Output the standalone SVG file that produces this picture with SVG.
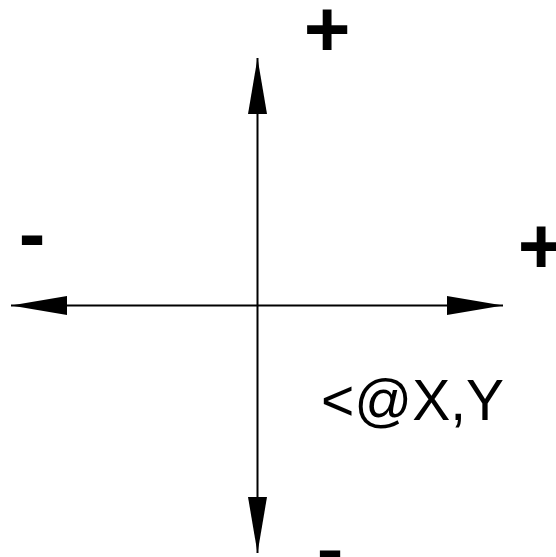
<svg xmlns="http://www.w3.org/2000/svg" width="556" height="557" viewBox="0 0 556 557">
  <defs>
    <style>
      .axis { stroke: #000; stroke-width: 2; fill: none; }
      .sign { font-family: "Liberation Sans", Arial, sans-serif; font-weight: bold; font-size: 80px; fill: #000; text-anchor: middle; }
      .label { font-family: "Liberation Sans", Arial, sans-serif; font-size: 57px; fill: #000; }
    </style>
    <marker id="arrow" markerUnits="userSpaceOnUse" viewBox="0 0 56 19" markerWidth="56" markerHeight="19" refX="56" refY="9.5" orient="auto-start-reverse">
      <path d="M0,0 L56,9.5 L0,19 Z" fill="#000"/>
    </marker>
  </defs>
  <rect width="556" height="557" fill="#fff"/>
  <g id="connectors">
    <line class="axis" x1="257.5" y1="58" x2="257.5" y2="553" marker-start="url(#arrow)" marker-end="url(#arrow)"/>
    <line class="axis" x1="11" y1="305.5" x2="503" y2="305.5" marker-start="url(#arrow)" marker-end="url(#arrow)"/>
  </g>
  <g id="plus-top"><text class="sign" x="327" y="56">+</text></g>
  <g id="minus-left"><text class="sign" x="32" y="261">-</text></g>
  <g id="plus-right"><text class="sign" x="541" y="273">+</text></g>
  <g id="minus-bottom"><text class="sign" x="330" y="576">-</text></g>
  <g id="label"><text class="label" x="321" y="420">&lt;@X,Y</text></g>
</svg>
